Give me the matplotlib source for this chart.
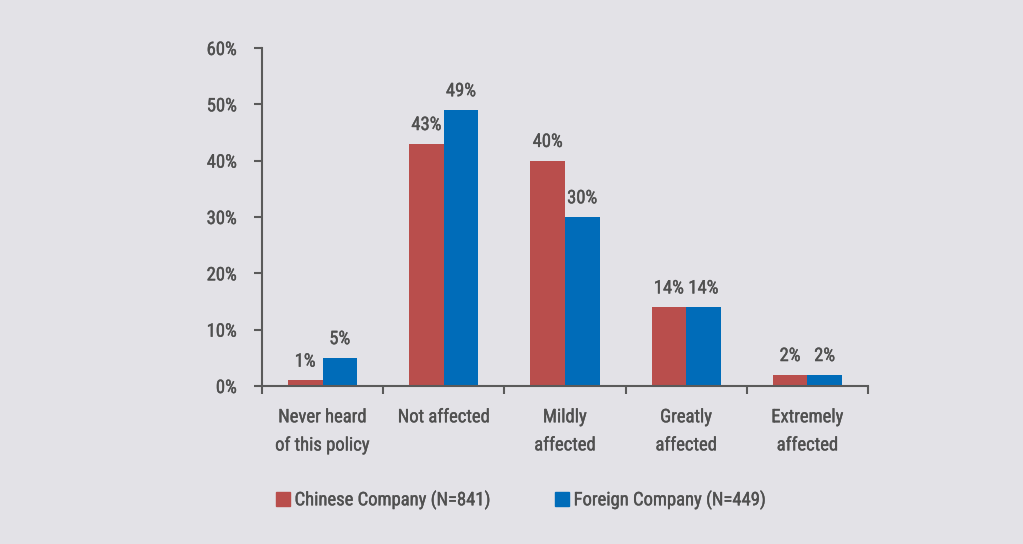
import matplotlib
matplotlib.use("Agg")
import matplotlib.pyplot as plt
import matplotlib.patheffects as pe
import numpy as np
from matplotlib import font_manager
from matplotlib.patches import Patch

categories = ["Never heard\nof this policy", "Not affected", "Mildly\naffected", "Greatly\naffected", "Extremely\naffected"]
chinese = [1, 43, 40, 14, 2]
foreign = [5, 49, 30, 14, 2]
series_names = ["Chinese Company (N=841)", "Foreign Company (N=449)"]
yticks = [0, 10, 20, 30, 40, 50, 60]

names = {f.name for f in font_manager.fontManager.ttflist}
fam = "DejaVu Sans"
for cand in ["Roboto Condensed", "Archivo Narrow", "PT Sans Narrow", "Liberation Sans Narrow",
             "Arial Narrow", "Open Sans Condensed", "Pragati Narrow", "Liberation Sans"]:
    if cand in names:
        fam = cand
        break
plt.rcParams['font.family'] = [fam, 'DejaVu Sans']

bg = "#e3e2e7"
red = "#b94e4c"
blue = "#006cb9"
txt = "#505050"
fs = 13.4
thick = [pe.withStroke(linewidth=0.28, foreground=txt)]

fig = plt.figure(figsize=(10.23, 5.44), dpi=100, facecolor=bg)
ax = fig.add_axes([0.256, 0.2904, 0.5925, 0.6214], facecolor=bg)

x = np.arange(len(categories))
w = 0.285
b1 = ax.bar(x - w/2, chinese, w, color=red, label=series_names[0])
b2 = ax.bar(x + w/2, foreign, w, color=blue, label=series_names[1])

for bars, vals in ((b1, chinese), (b2, foreign)):
    for rect, v in zip(bars, vals):
        ax.annotate(f"{v}%", (rect.get_x() + rect.get_width()/2, v), xytext=(0, 7),
                    textcoords="offset points", ha="center", va="bottom", fontsize=fs, color=txt,
                    path_effects=thick)

ax.set_xlim(-0.5, len(categories) - 0.5)
ax.set_ylim(0, 60)
ax.set_yticks(yticks)
ax.set_yticklabels([f"{t}%" for t in yticks])
ax.set_xticks(x)
ax.set_xticklabels(categories, linespacing=1.72)
ax.set_xticks(np.arange(len(categories) + 1) - 0.5, minor=True)
ax.tick_params(axis="x", which="major", length=0, pad=16, labelsize=fs, labelcolor=txt)
ax.tick_params(axis="x", which="minor", length=6, width=1.5, color="#5a5a5a", direction="out")
ax.tick_params(axis="y", length=6, width=1.5, color="#5a5a5a", pad=12, labelsize=fs, labelcolor=txt)
for lab in ax.get_xticklabels() + ax.get_yticklabels():
    lab.set_path_effects(thick)
for s in ["top", "right"]:
    ax.spines[s].set_visible(False)
for s in ["left", "bottom"]:
    ax.spines[s].set_color("#5a5a5a")
    ax.spines[s].set_linewidth(1.5)

for name, col, x0 in ((series_names[0], red, 276 / 1023), (series_names[1], blue, 555 / 1023)):
    leg = fig.legend(handles=[Patch(color=col, label=name)], loc="center left", bbox_to_anchor=(x0, 0.081),
                     frameon=False, fontsize=fs, handlelength=0.75, handleheight=0.75, handletextpad=0.25,
                     borderpad=0, borderaxespad=0, labelcolor=txt)
    for t in leg.get_texts():
        t.set_path_effects(thick)

fig.savefig("out.png", dpi=100, facecolor=bg)
